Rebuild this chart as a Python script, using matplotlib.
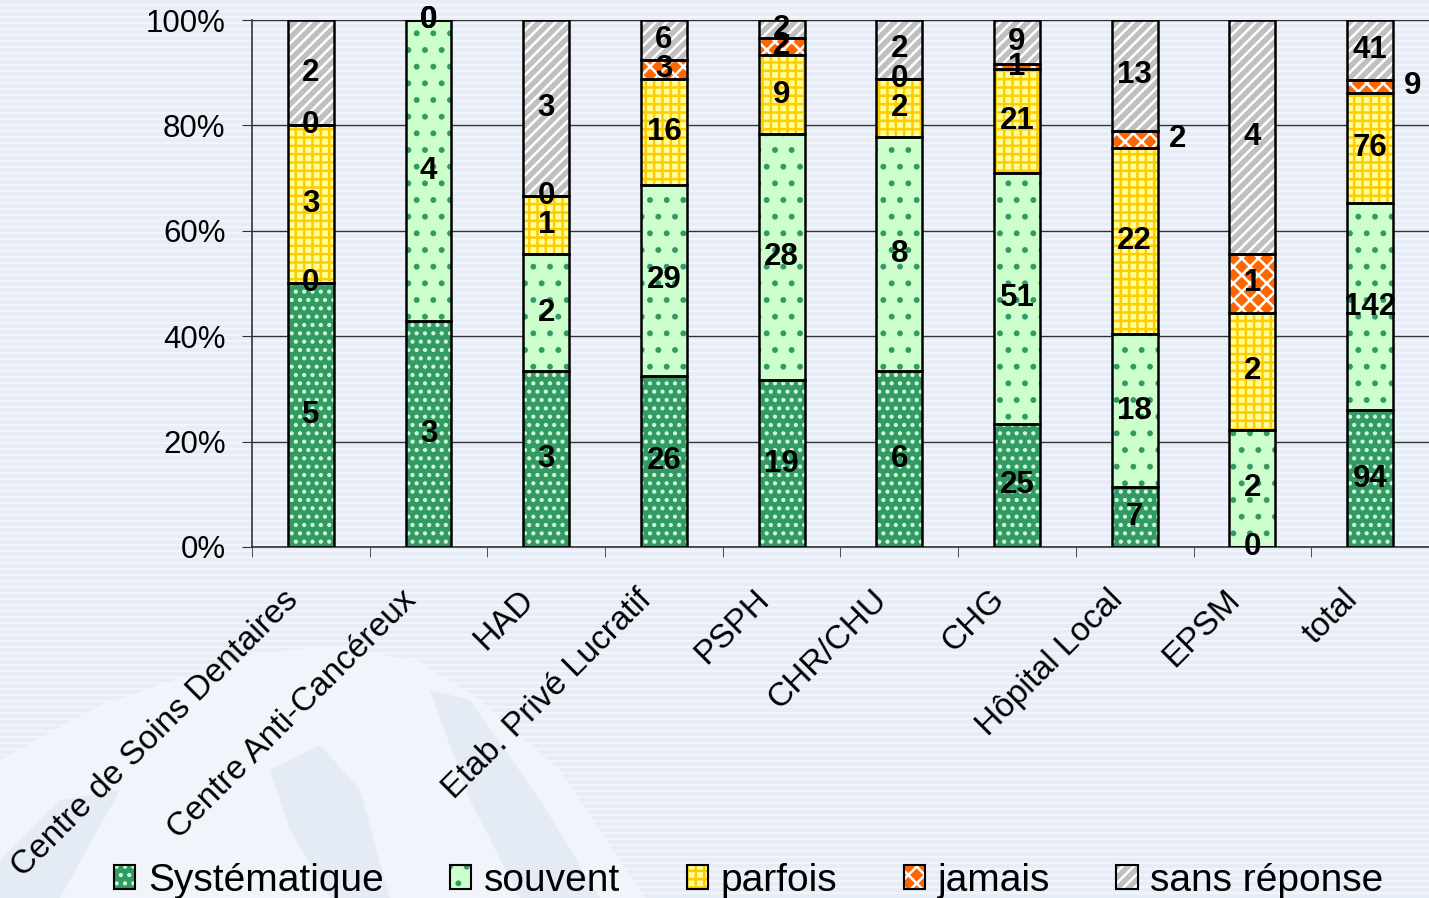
import matplotlib.pyplot as plt
import matplotlib.transforms as mtransforms
import numpy as np
from matplotlib.colors import to_rgb
from matplotlib.patches import Patch, Polygon

plt.rcParams["font.family"] = ["Liberation Sans", "DejaVu Sans"]
plt.rcParams["hatch.linewidth"] = 1.8

categories = [
    "Centre de Soins Dentaires", "Centre Anti-Cancéreux", "HAD",
    "Etab. Privé Lucratif", "PSPH", "CHR/CHU", "CHG", "Hôpital Local",
    "EPSM", "total",
]
systematique = [5, 3, 3, 26, 19, 6, 25, 7, 0, 94]
souvent = [0, 4, 2, 29, 28, 8, 51, 18, 2, 142]
parfois = [3, 0, 1, 16, 9, 2, 21, 22, 2, 76]
jamais = [0, 0, 0, 3, 2, 0, 1, 2, 1, 9]
sans_reponse = [2, 0, 3, 6, 2, 2, 9, 13, 4, 41]
series_names = ["Systématique", "souvent", "parfois", "jamais", "sans réponse"]

# labels that sit beside the bar instead of inside it
outside_labels = {("Hôpital Local", "jamais"), ("total", "jamais")}

# face colour, hatch, hatch colour for each answer
styles = [
    ("#339966", "..", "#ccffcc"),
    ("#ccffcc", ".", "#339966"),
    ("#ffff99", "++", "#ffcc00"),
    ("#ff6600", "xx", "white"),
    ("#c0c0c0", "///", "white"),
]

counts = np.array([systematique, souvent, parfois, jamais, sans_reponse], dtype=float)
pct = counts / counts.sum(axis=0) * 100

W, H = 1429, 898
fig = plt.figure(figsize=(W / 100, H / 100), dpi=100)

# striped slide background
bgax = fig.add_axes([0, 0, 1, 1], zorder=-5)
stripe = np.array([to_rgb("#e6edf6")] * 4 + [to_rgb("#f1f5fb")] * 2)
rows = np.tile(stripe, (H // len(stripe) + 1, 1))[:H]
bgax.imshow(np.repeat(rows[:, None, :], W, axis=1), aspect="auto",
            interpolation="nearest", extent=(0, W, H, 0))
bgax.set_xlim(0, W)
bgax.set_ylim(H, 0)
bgax.axis("off")

# pale backdrop shape in the lower left
bgax.add_patch(Polygon(
    [(0, 760), (100, 705), (250, 655), (330, 645), (420, 662), (480, 700),
     (560, 770), (620, 860), (645, 898), (0, 898)],
    closed=True, facecolor="#f1f5fb", edgecolor="none"))
for shape in (
    [(270, 770), (320, 745), (360, 790), (390, 898), (330, 898), (290, 830)],
    [(430, 690), (470, 700), (540, 800), (600, 898), (520, 898), (470, 800)],
    [(0, 860), (60, 800), (120, 790), (60, 898), (0, 898)],
):
    bgax.add_patch(Polygon(shape, closed=True, facecolor="#e4ebf5",
                           edgecolor="none"))

ax = fig.add_axes([0.1763, 0.3909, 0.8237, 0.5868])
ax.set_facecolor("none")

x = np.arange(len(categories))
width = 0.39
bottom = np.zeros(len(categories))
handles = []
for name, vals, p, (face, hatch, hcol) in zip(series_names, counts, pct, styles):
    ax.bar(x, p, width, bottom=bottom, color=face, hatch=hatch,
           edgecolor=hcol, linewidth=0, zorder=2)
    ax.bar(x, p, width, bottom=bottom, fill=False, edgecolor="black",
           linewidth=1.8, zorder=3)
    for i, (v, h) in enumerate(zip(vals, p)):
        xi = x[i]
        if (categories[i], name) in outside_labels:
            xi = x[i] + 0.36
        ax.text(xi, bottom[i] + h / 2, f"{int(v)}", ha="center", va="center",
                fontsize=22.5, fontweight="bold", color="black", zorder=4)
    bottom += p
    handles.append((Patch(facecolor=face, hatch=hatch, edgecolor=hcol, linewidth=0),
                    Patch(fill=False, edgecolor="black", linewidth=1.5)))

ax.set_xlim(-0.5, len(categories) - 0.5)
ax.set_ylim(0, 100)
ax.set_yticks(np.arange(0, 101, 20))
ax.set_yticklabels([f"{t}%" for t in range(0, 101, 20)], fontsize=22.5)
ax.yaxis.grid(True, color="#333333", linewidth=1.0)
ax.set_axisbelow(True)

# category names, slanted and hung just below each bar
ax.set_xticks([])
ax.set_xticks(np.arange(-0.5, len(categories), 1.0), minor=True)
label_tr = ax.get_xaxis_transform() + mtransforms.ScaledTranslation(
    -0.17, -0.48, fig.dpi_scale_trans)
for xi, cat in zip(x, categories):
    ax.text(xi, 0, cat, transform=label_tr, rotation=45, ha="right",
            va="center", rotation_mode="anchor", fontsize=24)
ax.tick_params(axis="x", which="minor", length=7, color="#333333")
ax.tick_params(axis="y", length=7, color="#333333", pad=12)

for side in ("top", "right"):
    ax.spines[side].set_visible(False)
for side in ("left", "bottom"):
    ax.spines[side].set_color("#333333")
    ax.spines[side].set_linewidth(1.2)

fig.legend(handles, series_names, loc="center", bbox_to_anchor=(0.524, 0.019),
           ncol=5, frameon=False, fontsize=28, handlelength=0.55,
           handleheight=0.55, handletextpad=0.33, columnspacing=1.7,
           borderpad=0)

fig.savefig("out.png", dpi=100)
